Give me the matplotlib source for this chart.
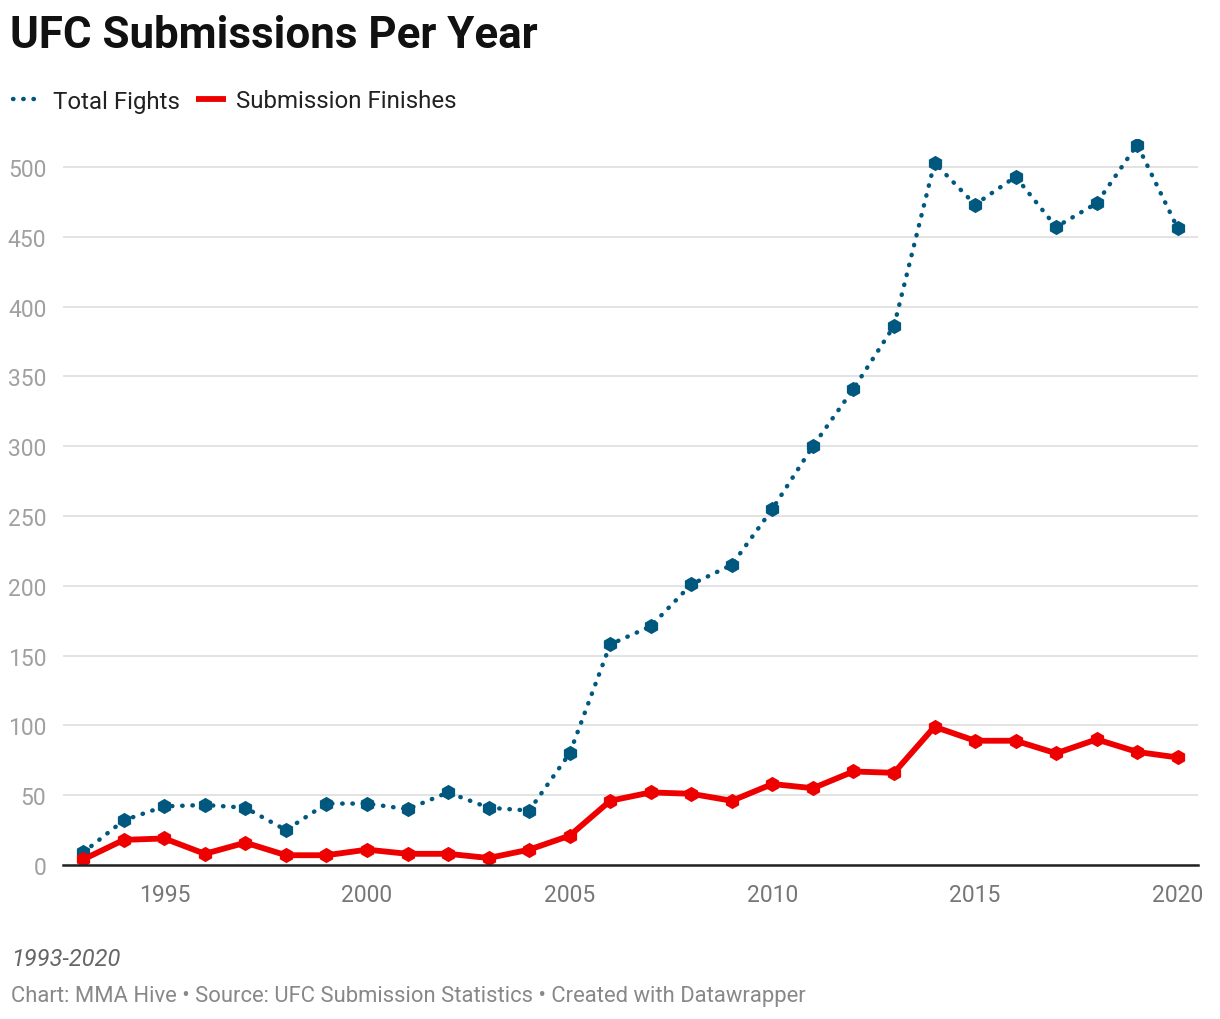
import matplotlib
matplotlib.use("Agg")
from matplotlib import pyplot as plt
from matplotlib.lines import Line2D

plt.rcParams['font.family'] = ['Roboto', 'DejaVu Sans']

# Data
years = list(range(1993, 2021))
total_fights = [9, 32, 42, 43, 41, 25, 44, 44, 40, 52, 41, 39, 80, 158,
                171, 201, 215, 255, 300, 341, 386, 503, 473, 493, 457, 474, 516, 456]
submissions = [4, 18, 19, 8, 16, 7, 7, 11, 8, 8, 5, 11, 21, 46,
               52, 51, 46, 58, 55, 67, 66, 99, 89, 89, 80, 90, 81, 77]
y_ticks = [0, 50, 100, 150, 200, 250, 300, 350, 400, 450, 500]
x_ticks = [1995, 2000, 2005, 2010, 2015, 2020]

blue = '#00587f'
red = '#ee0000'

W, H = 1220, 1020
fig = plt.figure(figsize=(W / 100, H / 100), dpi=100)

# axes placed in pixel terms
left, right, top, bottom = 63, 1198, 140, 866
ax = fig.add_axes([left / W, 1 - bottom / H, (right - left) / W, (bottom - top) / H])

ax.plot(years, total_fights, color=blue, linestyle=(0, (0.1, 2.2)), linewidth=3.2,
        dash_capstyle='round', marker='h', markersize=11, markeredgewidth=0, zorder=3)
ax.plot(years, submissions, color=red, linestyle='-', linewidth=4.2,
        solid_joinstyle='round', solid_capstyle='round',
        marker='h', markersize=11, markeredgewidth=0, zorder=4)

ax.set_xlim(1992.5, 2020.5)
ax.set_ylim(0, 520)
ax.set_yticks(y_ticks)
ax.set_xticks(x_ticks)
ax.grid(axis='y', color='#e0e0e0', linewidth=1.3)
ax.set_axisbelow(True)
for s in ['left', 'right', 'top']:
    ax.spines[s].set_visible(False)
ax.spines['bottom'].set_color('#222222')
ax.spines['bottom'].set_linewidth(1.8)
ax.spines['bottom'].set_zorder(5)
ax.tick_params(axis='both', length=0, labelsize=16.5, labelcolor='#a0a0a0')
ax.tick_params(axis='y', pad=12)
ax.tick_params(axis='x', pad=13)
ax.tick_params(axis='x', labelcolor='#777777')

# Title
fig.text(10 / W, 1 - 36 / H, "UFC Submissions Per Year", fontsize=31.6, fontweight='bold',
         color='#111111', va='center', ha='left')

# Legend
handles = [Line2D([], [], color=blue, linestyle=(0, (0.1, 2.2)), linewidth=3.2, dash_capstyle='round'),
           Line2D([], [], color=red, linestyle='-', linewidth=4.2, solid_capstyle='butt')]
fig.legend(handles, ["Total Fights", "Submission Finishes"], loc='center left',
           bbox_to_anchor=(13 / W, 1 - 102 / H), ncol=2, frameon=False, fontsize=17.3,
           handlelength=1.25, handletextpad=0.4, columnspacing=0.7, borderpad=0,
           borderaxespad=0, labelcolor='#222222')

# Footer
fig.text(11 / W, 1 - 960 / H, "1993-2020", fontsize=17, style='italic', color='#666666',
         va='center', ha='left')
fig.text(11 / W, 1 - 997 / H, "Chart: MMA Hive \u2022 Source: UFC Submission Statistics \u2022 Created with Datawrapper",
         fontsize=15.8, color='#888888', va='center', ha='left')

fig.savefig("out.png", dpi=100)
